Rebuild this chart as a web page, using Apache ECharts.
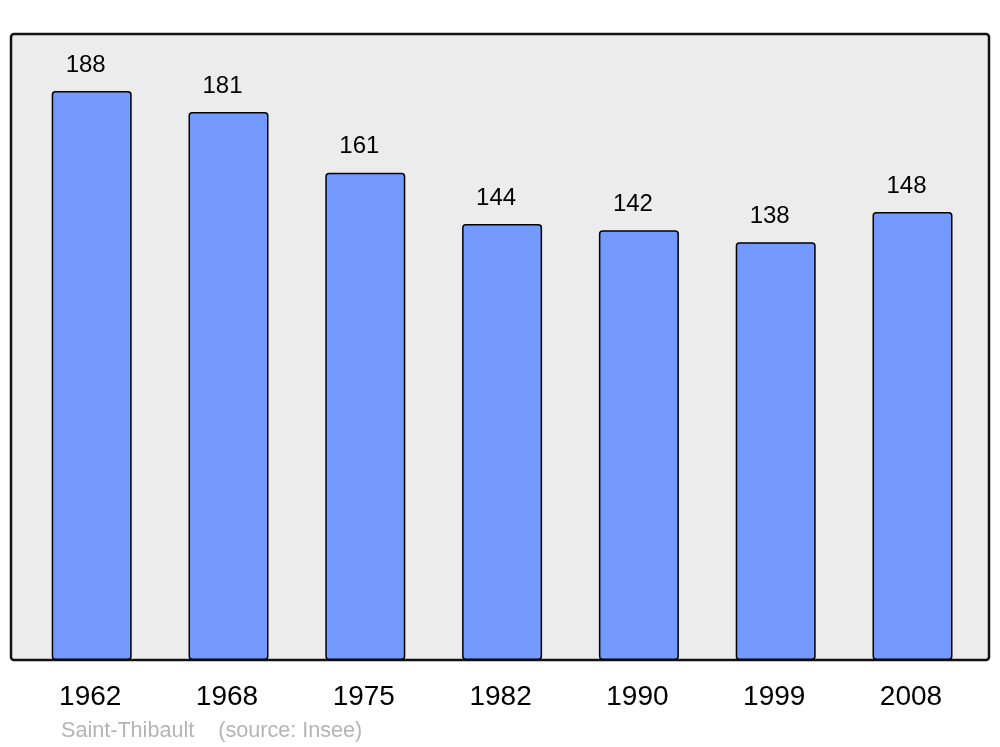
<!DOCTYPE html>
<html>
<head>
<meta charset="utf-8">
<script src="https://cdn.jsdelivr.net/npm/echarts@6/dist/echarts.min.js"></script>
<style>
    html, body { margin: 0; padding: 0; background: #fff; }
    #chart { width: 1000px; height: 747px; }
</style>
</head>
<body>
<div id="chart"></div>
<script>
    const years = ['1962', '1968', '1975', '1982', '1990', '1999', '2008']
    const population = [188, 181, 161, 144, 142, 138, 148]
    const sourceText = 'Saint-Thibault    (source: Insee)'

    const chart = echarts.init(document.getElementById('chart'))
    const options = {
        animation: false,
        graphic: [
            {
                type: 'rect',
                z: -10,
                shape: { x: 11, y: 34, width: 978, height: 626, r: 3 },
                style: { fill: '#ececec', stroke: '#111', lineWidth: 2.5 }
            },
            {
                type: 'text',
                left: 61,
                top: 720,
                style: {
                    text: sourceText,
                    fill: '#b4b4b4',
                    font: '21.6px "Liberation Sans", Arial, sans-serif'
                }
            }
        ],
        grid: {
            left: 23.3,
            right: 19.1,
            top: 34,
            bottom: 87
        },
        xAxis: {
            type: 'category',
            data: years,
            axisLine: { show: false },
            axisTick: { show: false },
            axisLabel: {
                margin: 23,
                fontSize: 28,
                color: '#000',
                padding: [0, 3, 0, 0],
                fontFamily: '"Liberation Sans", Arial, sans-serif'
            }
        },
        yAxis: {
            type: 'value',
            min: 0,
            max: 206.8,
            show: false,
            splitLine: { show: false }
        },
        series: [
            {
                type: 'bar',
                data: population,
                barWidth: 80,
                itemStyle: {
                    color: '#7499ff',
                    borderColor: '#000',
                    borderWidth: 1.5,
                    borderRadius: 3
                },
                label: {
                    show: true,
                    position: 'top',
                    distance: 14,
                    offset: [-6, 0],
                    fontSize: 24,
                    color: '#000',
                    fontFamily: '"Liberation Sans", Arial, sans-serif'
                }
            }
        ]
    }
    chart.setOption(options)
</script>
</body>
</html>
